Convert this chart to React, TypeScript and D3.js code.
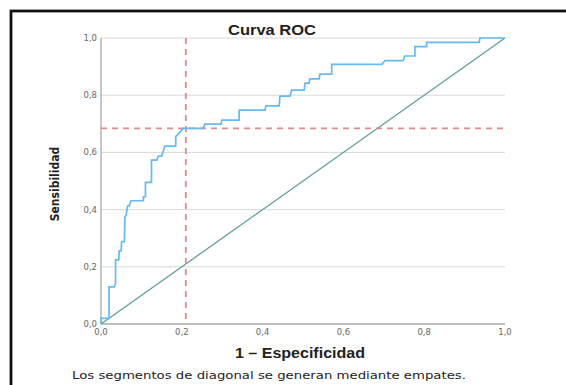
import React from "react";
import * as d3 from "d3";

// ROC curve vertices (1 - specificity, sensitivity)
const fpr = [
  0, 0, 0.02, 0.02, 0.033, 0.036, 0.036, 0.044, 0.045, 0.05, 0.051, 0.058, 0.059, 0.062,
  0.066, 0.07, 0.074, 0.105, 0.105, 0.11, 0.11, 0.125, 0.125, 0.138, 0.142, 0.15, 0.158,
  0.185, 0.185, 0.196, 0.204, 0.253, 0.257, 0.297, 0.299, 0.342, 0.342, 0.406, 0.408,
  0.441, 0.443, 0.468, 0.472, 0.503, 0.505, 0.515, 0.517, 0.54, 0.542, 0.571, 0.571,
  0.695, 0.703, 0.748, 0.752, 0.777, 0.777, 0.806, 0.806, 0.936, 0.938, 1.0,
];
const tpr = [
  0, 0.02, 0.02, 0.13, 0.13, 0.142, 0.224, 0.224, 0.256, 0.256, 0.288, 0.288, 0.373, 0.38,
  0.413, 0.413, 0.431, 0.431, 0.445, 0.445, 0.495, 0.495, 0.573, 0.573, 0.587, 0.587, 0.622,
  0.622, 0.655, 0.672, 0.684, 0.684, 0.699, 0.699, 0.713, 0.713, 0.748, 0.748, 0.763,
  0.763, 0.797, 0.797, 0.818, 0.818, 0.842, 0.842, 0.857, 0.857, 0.874, 0.874, 0.908,
  0.908, 0.921, 0.921, 0.937, 0.937, 0.97, 0.97, 0.985, 0.985, 1.0, 1.0,
];
const ticks = [0, 0.2, 0.4, 0.6, 0.8, 1.0];
const cutoffX = 0.21;
const cutoffY = 0.684;

const fmt = (v: number) => v.toFixed(1).replace(".", ",");

export default function App() {
  const margin = { left: 101, right: 61, top: 38, bottom: 61 };
  const width = 566;
  const height = 385;

  const x = d3.scaleLinear().domain([0, 1]).range([margin.left, width - margin.right]);
  const y = d3.scaleLinear().domain([0, 1]).range([height - margin.bottom, margin.top]);

  const pts: [number, number][] = fpr.map((f, i) => [f, tpr[i]]);
  const line = d3
    .line<[number, number]>()
    .x((d) => x(d[0]))
    .y((d) => y(d[1]));

  const tickFont = "'DejaVu Sans', sans-serif";

  return (
    <svg
      width={width}
      height={height}
      style={{ position: "absolute", left: 0, top: 0, background: "#fff" }}
    >
      <rect x={11} y={11} width={620} height={420} fill="none" stroke="#111" strokeWidth={2.8} />

      <text
        x={272}
        y={35}
        textAnchor="middle"
        fontFamily="'Liberation Sans', Arial, sans-serif"
        fontWeight="bold"
        fontSize={14}
        fill="#222"
        textLength={88}
        lengthAdjust="spacingAndGlyphs"
      >
        Curva ROC
      </text>

      {/* grid */}
      {ticks.slice(1).map((t) => (
        <line
          key={"g" + t}
          x1={x(0)}
          x2={x(1)}
          y1={y(t)}
          y2={y(t)}
          stroke="#d8d8d8"
          strokeWidth={1}
        />
      ))}

      {/* axes */}
      <line x1={x(0)} x2={x(0)} y1={y(0)} y2={y(1)} stroke="#a8a8a8" strokeWidth={1.3} />
      <line x1={x(0)} x2={x(1)} y1={y(0)} y2={y(0)} stroke="#a8a8a8" strokeWidth={1.3} />

      {ticks.map((t) => (
        <text
          key={"yt" + t}
          x={x(0) - 4}
          y={y(t) + 3}
          textAnchor="end"
          fontFamily={tickFont}
          fontSize={8.5}
          fill="#666"
        >
          {fmt(t)}
        </text>
      ))}
      {ticks.map((t) => (
        <text
          key={"xt" + t}
          x={x(t)}
          y={y(0) + 11}
          textAnchor="middle"
          fontFamily={tickFont}
          fontSize={8.5}
          fill="#666"
        >
          {fmt(t)}
        </text>
      ))}

      {/* reference diagonal */}
      <line x1={x(0)} y1={y(0)} x2={x(1)} y2={y(1)} stroke="#5e9f99" strokeWidth={1.3} />

      {/* cutoff lines */}
      <line
        x1={x(cutoffX)}
        x2={x(cutoffX)}
        y1={y(1)}
        y2={y(0)}
        stroke="#dd8a8a"
        strokeWidth={1.8}
        strokeDasharray="6 5"
      />
      <line
        x1={x(0)}
        x2={x(0.995)}
        y1={y(cutoffY)}
        y2={y(cutoffY)}
        stroke="#dd8a8a"
        strokeWidth={1.8}
        strokeDasharray="6 5"
      />

      {/* ROC curve */}
      <path d={line(pts) ?? ""} fill="none" stroke="#64baf3" strokeWidth={1.7} />

      <text
        transform={`translate(59,184) rotate(-90)`}
        textAnchor="middle"
        fontFamily="'DejaVu Sans Condensed', 'DejaVu Sans', sans-serif"
        fontWeight="bold"
        fontSize={12}
        fill="#222"
      >
        Sensibilidad
      </text>

      <text
        x={300}
        y={358}
        textAnchor="middle"
        fontFamily="'Liberation Sans', Arial, sans-serif"
        fontWeight="bold"
        fontSize={14}
        fill="#222"
        textLength={130}
        lengthAdjust="spacingAndGlyphs"
      >
        1 – Especificidad
      </text>

      <text
        x={72}
        y={379}
        fontFamily={tickFont}
        fontSize={10}
        fill="#222"
        textLength={394}
        lengthAdjust="spacingAndGlyphs"
      >
        Los segmentos de diagonal se generan mediante empates.
      </text>
    </svg>
  );
}
